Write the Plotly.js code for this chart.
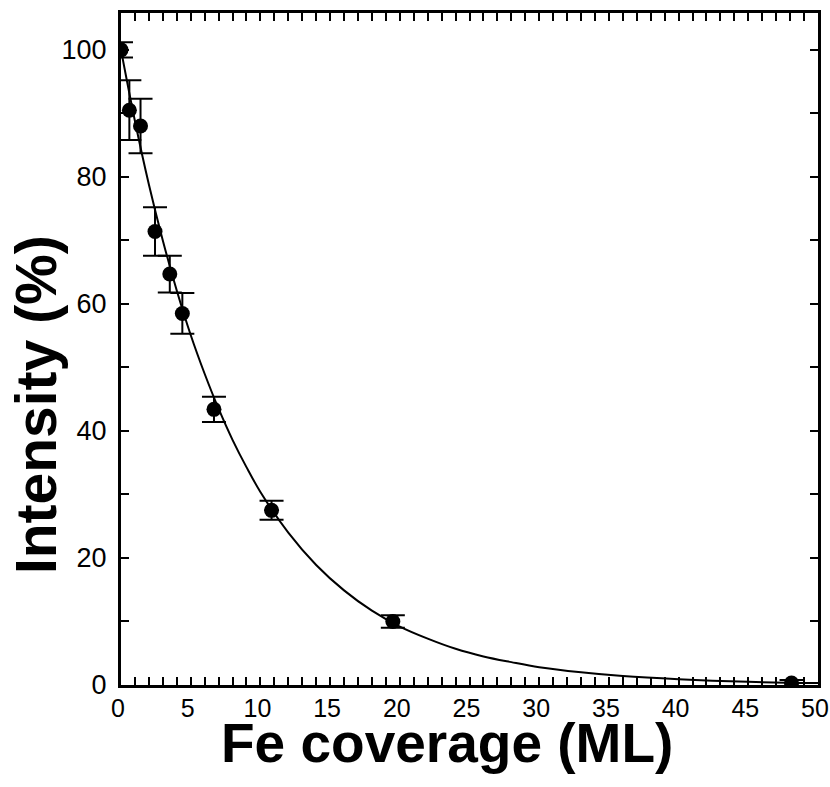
<!DOCTYPE html>
<html>
<head>
<meta charset="utf-8">
<script src="https://cdn.plot.ly/plotly-3.0.1.min.js"></script>
<style>html,body{margin:0;padding:0;background:#fff;}#chart{width:830px;height:787px;}</style>
</head>
<body>
<div id="chart"></div>
<script>
// Measured data points (Fe coverage in ML, intensity in %)
const coverage  = [0, 0.6, 1.4, 2.44, 3.5, 4.4, 6.67, 10.8, 19.5, 48.1];
const intensity = [100, 90.5, 88, 71.4, 64.7, 58.5, 43.4, 27.5, 10.0, 0.3];
const errors    = [1.2, 4.7, 4.3, 3.8, 2.9, 3.2, 2.0, 1.5, 1.0, 0.5];

// Fitted decay curve
const fitX = [0, 1, 2, 3, 4, 5, 6, 7, 8, 9, 10, 12, 14, 16, 18, 20, 22, 24, 26, 28, 30, 33, 36, 40, 45, 50];
const fitY = [100, 88.8, 78.8, 70.0, 62.1, 55.1, 49.0, 43.5, 38.6, 34.3, 30.4, 24.0, 18.9, 14.9, 11.7, 9.2, 7.3, 5.7, 4.5, 3.6, 2.8, 2.0, 1.4, 0.9, 0.5, 0.3];

const xTitle = 'Fe coverage (ML)';
const yTitle = 'Intensity (%)';

const FONT = 'Liberation Sans, Arial, sans-serif';

const traces = [
  {
    x: fitX, y: fitY, mode: 'lines', type: 'scatter',
    line: {color: '#000', width: 2, shape: 'spline'},
    hoverinfo: 'skip'
  },
  {
    x: coverage, y: intensity, mode: 'markers', type: 'scatter',
    marker: {color: '#000', size: 15, symbol: 'circle'},
    error_y: {type: 'data', array: errors, visible: true, color: '#000', thickness: 2, width: 12}
  }
];

const axisCommon = {
  showline: true, linecolor: '#000', linewidth: 3, mirror: 'ticks',
  ticks: 'inside', ticklen: 8, tickwidth: 2, tickcolor: '#000',
  showgrid: false, zeroline: false,
  ticklabeloverflow: 'allow'
};

const titleFont = {family: FONT, size: 55, color: '#000', weight: 'bold'};

const layout = {
  width: 830, height: 787,
  margin: {l: 121, r: 12, t: 13, b: 102},
  paper_bgcolor: '#fff', plot_bgcolor: '#fff',
  showlegend: false,
  xaxis: Object.assign({}, axisCommon, {
    range: [0, 50], dtick: 5, tick0: 0,
    minor: {dtick: 1, ticks: 'inside', ticklen: 8, tickwidth: 2, tickcolor: '#000', showgrid: false},
    tickfont: {family: FONT, size: 25, color: '#000'},
    ticklabelstandoff: -1,
    ticklabelshift: -3
  }),
  yaxis: Object.assign({}, axisCommon, {
    range: [0, 105.8], dtick: 20, tick0: 0,
    minor: {dtick: 10, ticks: 'inside', ticklen: 8, tickwidth: 2, tickcolor: '#000', showgrid: false},
    tickfont: {family: FONT, size: 27, color: '#000'},
    ticklabelstandoff: 6
  }),
  annotations: [
    {
      text: xTitle, xref: 'paper', yref: 'paper',
      x: 0.4677, y: -0.086, xanchor: 'center', yanchor: 'middle',
      showarrow: false, font: titleFont
    },
    {
      text: yTitle, xref: 'paper', yref: 'paper', textangle: -90,
      x: -0.122, y: 0.418, xanchor: 'center', yanchor: 'middle',
      showarrow: false, font: Object.assign({}, titleFont, {size: 57})
    }
  ]
};

Plotly.newPlot('chart', traces, layout, {displayModeBar: false, staticPlot: true});
</script>
</body>
</html>
